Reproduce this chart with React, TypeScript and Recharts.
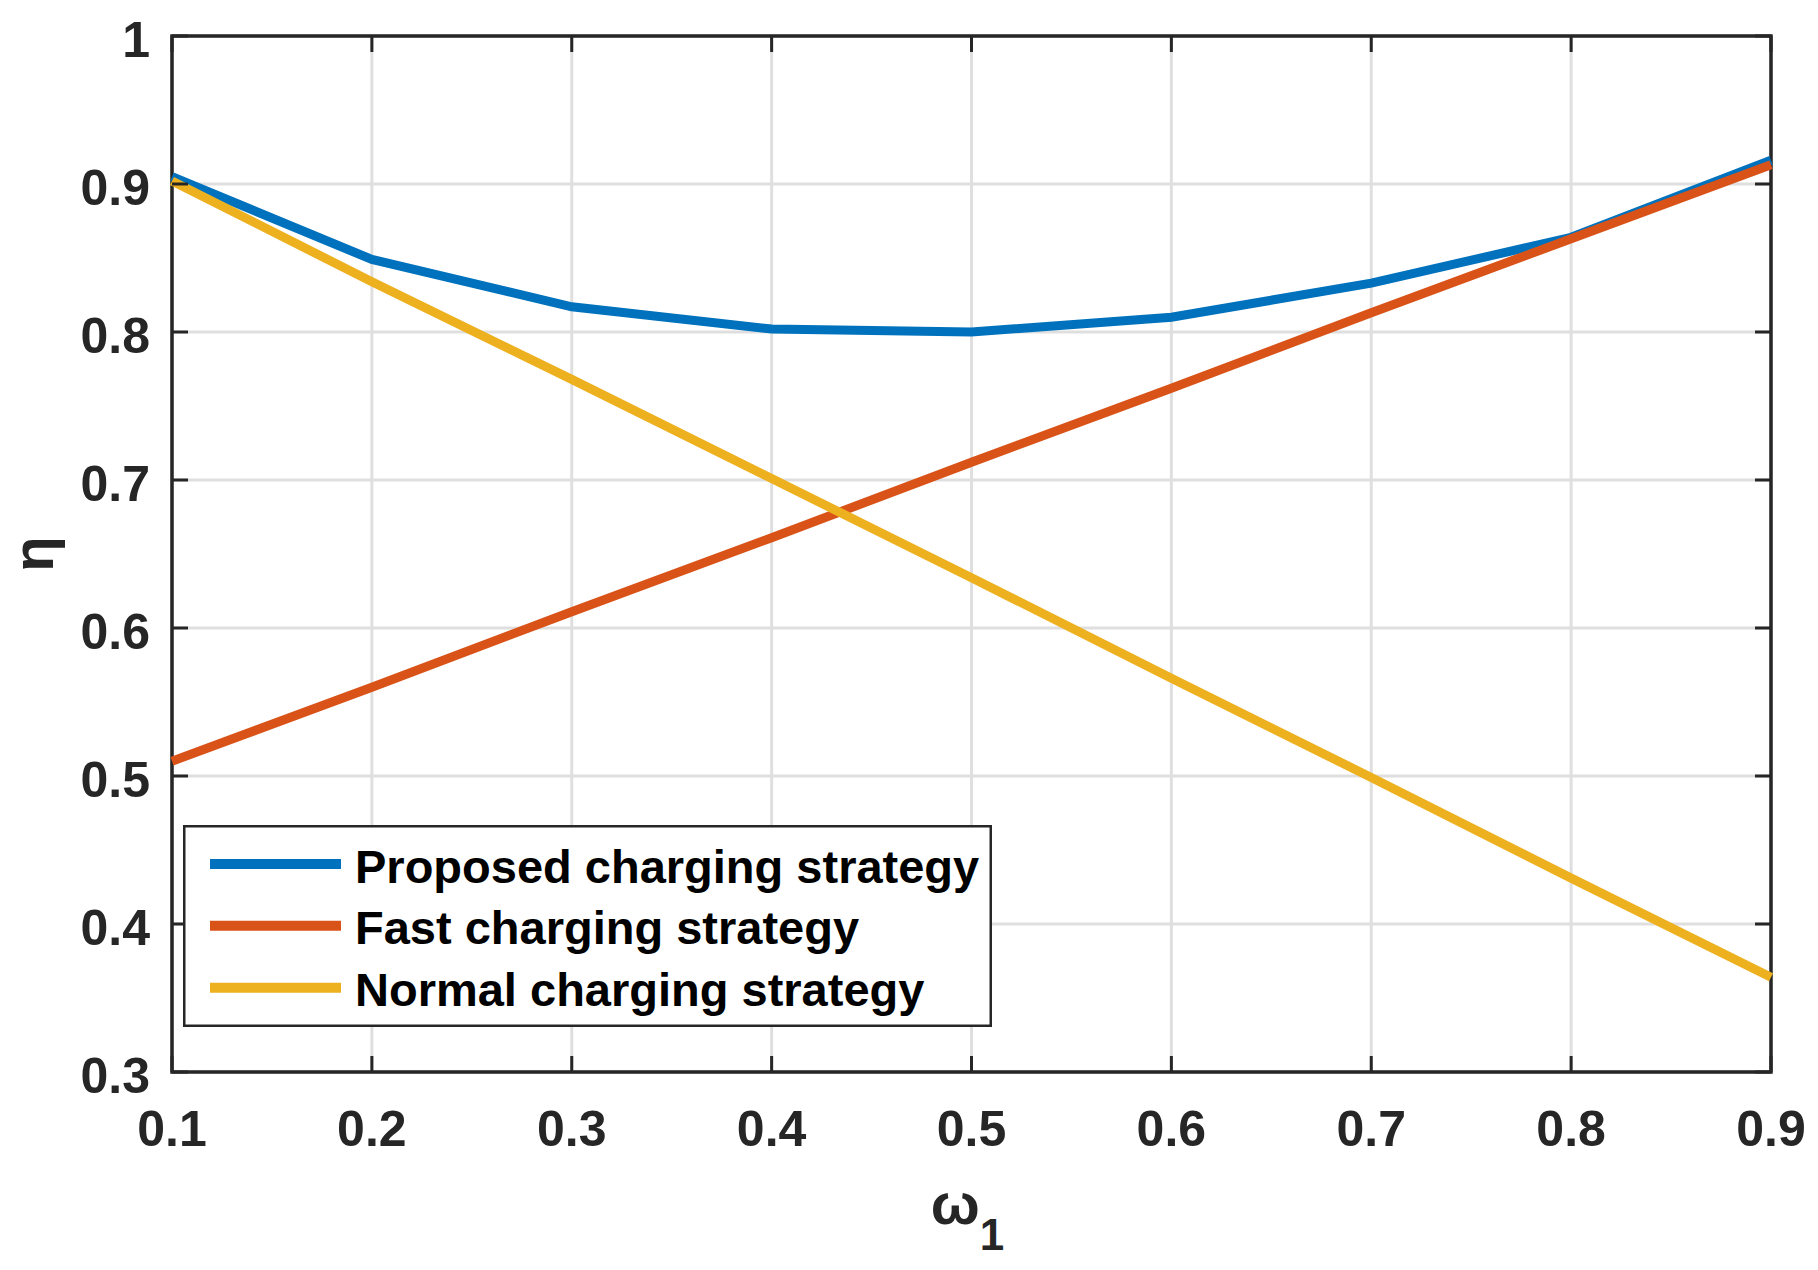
import React from "react";
import {
  LineChart,
  Line,
  XAxis,
  YAxis,
  CartesianGrid,
  ReferenceArea,
  Legend,
} from "recharts";

// omega_1 values along the x axis
const omega = [0.1, 0.2, 0.3, 0.4, 0.5, 0.6, 0.7, 0.8, 0.9];

// efficiency eta for each strategy
const proposed = [0.905, 0.849, 0.817, 0.802, 0.8, 0.81, 0.833, 0.864, 0.916];
const fast = [0.51, 0.56, 0.611, 0.661, 0.712, 0.762, 0.813, 0.863, 0.913];
const normal = [0.902, 0.834, 0.768, 0.701, 0.634, 0.566, 0.499, 0.431, 0.364];

const xTicks = [0.1, 0.2, 0.3, 0.4, 0.5, 0.6, 0.7, 0.8, 0.9];
const yTicks = [0.3, 0.4, 0.5, 0.6, 0.7, 0.8, 0.9, 1];

const seriesNames = [
  "Proposed charging strategy",
  "Fast charging strategy",
  "Normal charging strategy",
];

const data = omega.map((w, i) => ({
  w,
  proposed: proposed[i],
  fast: fast[i],
  normal: normal[i],
}));

// layout
const W = 1802;
const H = 1254;
const margin = { top: 28, right: 39, left: 0, bottom: 0 };
const Y_AXIS_W = 164;
const X_AXIS_H = 190;
const PLOT_RIGHT = W - margin.right;
const PLOT_TOP = margin.top;

const AXIS = "#262626";
const FONT = "'Liberation Sans', Arial, Helvetica, sans-serif";
const TICK_LEN = 16;

function XTick(props: any) {
  const { x, y, payload } = props;
  return (
    <g>
      <line x1={x} y1={y} x2={x} y2={y - TICK_LEN} stroke={AXIS} strokeWidth={3} />
      <line x1={x} y1={PLOT_TOP} x2={x} y2={PLOT_TOP + TICK_LEN} stroke={AXIS} strokeWidth={3} />
      <text
        x={x}
        y={y + 74}
        textAnchor="middle"
        fill={AXIS}
        fontSize={50}
        fontWeight="bold"
        fontFamily={FONT}
      >
        {payload.value.toFixed(1)}
      </text>
    </g>
  );
}

function YTick(props: any) {
  const { x, y, payload } = props;
  const v = payload.value;
  return (
    <g>
      <line x1={x} y1={y} x2={x + TICK_LEN} y2={y} stroke={AXIS} strokeWidth={3} />
      <line x1={PLOT_RIGHT} y1={y} x2={PLOT_RIGHT - TICK_LEN} y2={y} stroke={AXIS} strokeWidth={3} />
      <text
        x={x - 22}
        y={y + 21}
        textAnchor="end"
        fill={AXIS}
        fontSize={50}
        fontWeight="bold"
        fontFamily={FONT}
      >
        {v === 1 ? "1" : v.toFixed(1)}
      </text>
    </g>
  );
}

function XLabel(props: any) {
  const { viewBox } = props;
  const cx = viewBox.x + viewBox.width / 2 - 4;
  return (
    <text
      x={cx}
      y={viewBox.y + 152}
      textAnchor="middle"
      fill={AXIS}
      fontSize={58}
      fontWeight="bold"
      fontFamily={FONT}
    >
      <tspan>ω</tspan>
      <tspan dy={26} fontSize={44}>
        1
      </tspan>
    </text>
  );
}

function YLabel(props: any) {
  const { viewBox } = props;
  const cy = viewBox.y + viewBox.height / 2;
  return (
    <text
      x={45}
      y={cy}
      transform={`rotate(-90, 45, ${cy})`}
      textAnchor="middle"
      fill={AXIS}
      fontSize={58}
      fontWeight="bold"
      fontFamily={FONT}
    >
      η
    </text>
  );
}

function LegendBox(props: any) {
  const payload = [...(props.payload || [])].sort(
    (a: any, b: any) => seriesNames.indexOf(a.value) - seriesNames.indexOf(b.value)
  );
  const rows = [39, 100.7, 162.7];
  return (
    <svg width={809} height={202} style={{ display: "block" }}>
      <rect x={1.25} y={1.25} width={806.5} height={199.5} fill="#fff" stroke={AXIS} strokeWidth={2.5} />
      {payload.map((p: any, i: number) => (
        <g key={p.value}>
          <line x1={27} y1={rows[i]} x2={158} y2={rows[i]} stroke={p.color} strokeWidth={10} />
          <text
            x={172}
            y={rows[i] + 18.7}
            fill="#000"
            fontSize={47}
            fontWeight="bold"
            fontFamily={FONT}
          >
            {p.value}
          </text>
        </g>
      ))}
    </svg>
  );
}

export default function App() {
  return (
    <div style={{ width: W, height: H, background: "#fff" }}>
      <LineChart width={W} height={H} data={data} margin={margin}>
        <CartesianGrid stroke="#dfdfdf" strokeWidth={3} />
        <XAxis
          dataKey="w"
          type="number"
          domain={[0.1, 0.9]}
          ticks={xTicks}
          height={X_AXIS_H}
          tickSize={0}
          tickMargin={0}
          tickLine={false}
          axisLine={false}
          tick={XTick}
          label={{ content: XLabel }}
        />
        <YAxis
          type="number"
          domain={[0.3, 1]}
          ticks={yTicks}
          width={Y_AXIS_W}
          tickSize={0}
          tickMargin={0}
          tickLine={false}
          axisLine={false}
          tick={YTick}
          label={{ content: YLabel }}
        />
        <ReferenceArea
          x1={0.1}
          x2={0.9}
          y1={0.3}
          y2={1}
          fill="none"
          fillOpacity={0}
          stroke={AXIS}
          strokeWidth={3.5}
          strokeOpacity={1}
          ifOverflow="visible"
        />
        <Line
          type="linear"
          dataKey="proposed"
          name={seriesNames[0]}
          stroke="#0072BD"
          strokeWidth={9}
          dot={false}
          activeDot={false}
          isAnimationActive={false}
        />
        <Line
          type="linear"
          dataKey="fast"
          name={seriesNames[1]}
          stroke="#D95319"
          strokeWidth={9}
          dot={false}
          activeDot={false}
          isAnimationActive={false}
        />
        <Line
          type="linear"
          dataKey="normal"
          name={seriesNames[2]}
          stroke="#EDB120"
          strokeWidth={9}
          dot={false}
          activeDot={false}
          isAnimationActive={false}
        />
        <Legend
          layout="vertical"
          align="center"
          verticalAlign="middle"
          content={LegendBox}
          wrapperStyle={{ position: "absolute", left: 175.3, top: 817, width: 809, height: 202 }}
        />
      </LineChart>
    </div>
  );
}
